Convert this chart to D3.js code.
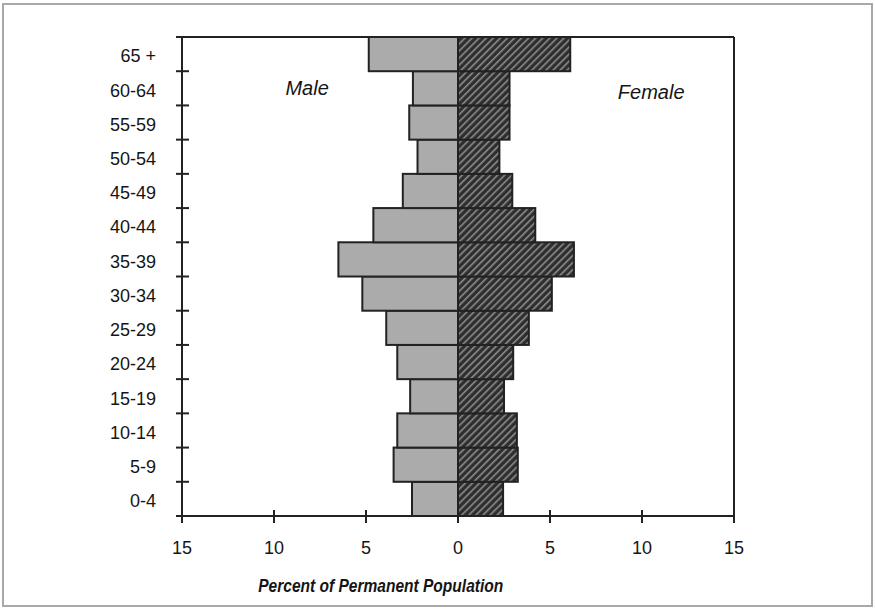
<!DOCTYPE html>
<html>
<head>
<meta charset="utf-8">
<style>
  body { margin: 0; background: #fff; }
  svg { display: block; font-family: "Liberation Sans", Arial, Helvetica, sans-serif; }
</style>
</head>
<body>
<svg width="875" height="609"></svg>
<script src="https://cdnjs.cloudflare.com/ajax/libs/d3/7.8.5/d3.min.js"></script>
<script>
// age groups, bottom to top
var ageGroups = ["0-4", "5-9", "10-14", "15-19", "20-24", "25-29", "30-34",
                 "35-39", "40-44", "45-49", "50-54", "55-59", "60-64", "65 +"];
var male   = [2.5, 3.5, 3.3, 2.6, 3.3, 3.9, 5.2, 6.5, 4.6, 3.0, 2.2, 2.65, 2.45, 4.85];
var female = [2.45, 3.25, 3.2, 2.5, 3.0, 3.85, 5.1, 6.3, 4.2, 2.95, 2.25, 2.8, 2.8, 6.1];
var xTicks = [-15, -10, -5, 0, 5, 10, 15];

var svg = d3.select("svg"),
    margin = {top: 37, right: 141, bottom: 93, left: 182},
    width = +svg.attr("width") - margin.left - margin.right,
    height = +svg.attr("height") - margin.top - margin.bottom;

// outer border of the figure
svg.append("rect")
  .attr("x", 3).attr("y", 4)
  .attr("width", 869).attr("height", 602)
  .attr("fill", "none")
  .attr("stroke", "#a8a8a8")
  .attr("stroke-width", 2);

var defs = svg.append("defs");
var pat = defs.append("pattern")
  .attr("id", "hatch")
  .attr("patternUnits", "userSpaceOnUse")
  .attr("width", 5).attr("height", 5)
  .attr("patternTransform", "rotate(45)");
pat.append("rect").attr("width", 5).attr("height", 5).attr("fill", "#2e2e2e");
pat.append("rect").attr("x", 0).attr("width", 1.6).attr("height", 5).attr("fill", "#8c8c8c");

var g = svg.append("g").attr("transform", "translate(" + margin.left + "," + margin.top + ")");

var x = d3.scaleLinear().domain([-15, 15]).range([0, width]);
var y = d3.scaleBand().domain(ageGroups).range([height, 0]).paddingInner(0).paddingOuter(0);

// frame: top and right lines
g.append("line")
  .attr("x1", -6).attr("x2", width).attr("y1", 0).attr("y2", 0)
  .attr("stroke", "#222").attr("stroke-width", 2);
g.append("line")
  .attr("x1", width).attr("x2", width).attr("y1", 0).attr("y2", height + 7)
  .attr("stroke", "#222").attr("stroke-width", 2);

// male bars
g.selectAll(".male")
  .data(ageGroups)
  .enter().append("rect")
  .attr("class", "male")
  .attr("x", function(d, i) { return x(-male[i]); })
  .attr("y", function(d) { return y(d); })
  .attr("width", function(d, i) { return x(0) - x(-male[i]); })
  .attr("height", y.bandwidth())
  .attr("fill", "#ababab")
  .attr("stroke", "#222")
  .attr("stroke-width", 2);

// female bars
g.selectAll(".female")
  .data(ageGroups)
  .enter().append("rect")
  .attr("class", "female")
  .attr("x", x(0))
  .attr("y", function(d) { return y(d); })
  .attr("width", function(d, i) { return x(female[i]) - x(0); })
  .attr("height", y.bandwidth())
  .attr("fill", "url(#hatch)")
  .attr("stroke", "#222")
  .attr("stroke-width", 2);

// left axis: ticks at band boundaries
var bounds = ageGroups.slice(1).map(function(d) { return y(d) + y.bandwidth(); });
g.append("line")
  .attr("x1", 0).attr("x2", 0).attr("y1", 0).attr("y2", height + 7)
  .attr("stroke", "#222").attr("stroke-width", 2);
g.selectAll(".ytick")
  .data(bounds)
  .enter().append("line")
  .attr("x1", -6).attr("x2", 7)
  .attr("y1", function(d) { return d; }).attr("y2", function(d) { return d; })
  .attr("stroke", "#222").attr("stroke-width", 2);
g.selectAll(".ylab")
  .data(ageGroups)
  .enter().append("text")
  .attr("x", -26)
  .attr("y", function(d) { return y(d) + y.bandwidth() / 2 + 2; })
  .attr("dy", "0.35em")
  .attr("text-anchor", "end")
  .attr("font-size", 18)
  .attr("fill", "#151515")
  .text(function(d) { return d; });

// bottom axis
g.append("line")
  .attr("x1", -6).attr("x2", width).attr("y1", height).attr("y2", height)
  .attr("stroke", "#222").attr("stroke-width", 2);
g.selectAll(".xtick")
  .data(xTicks)
  .enter().append("line")
  .attr("x1", function(d) { return x(d); }).attr("x2", function(d) { return x(d); })
  .attr("y1", height - 6).attr("y2", height + 7)
  .attr("stroke", "#222").attr("stroke-width", 2);
g.selectAll(".xlab")
  .data(xTicks)
  .enter().append("text")
  .attr("x", function(d) { return x(d); })
  .attr("y", height + 32)
  .attr("dy", "0.35em")
  .attr("text-anchor", "middle")
  .attr("font-size", 18)
  .attr("fill", "#151515")
  .text(function(d) { return Math.abs(d); });

g.append("text")
  .attr("x", x(-4.2))
  .attr("y", height + 69)
  .attr("dy", "0.35em")
  .attr("text-anchor", "middle")
  .attr("font-size", 19)
  .attr("font-weight", "bold")
  .attr("font-style", "italic")
  .attr("textLength", 245)
  .attr("lengthAdjust", "spacingAndGlyphs")
  .attr("fill", "#151515")
  .text("Percent of Permanent Population");

// series labels
g.append("text")
  .attr("x", x(-8.2)).attr("y", 51)
  .attr("dy", "0.35em")
  .attr("text-anchor", "middle")
  .attr("font-size", 20)
  .attr("font-style", "italic")
  .attr("fill", "#151515")
  .text("Male");
g.append("text")
  .attr("x", x(10.5)).attr("y", 55)
  .attr("dy", "0.35em")
  .attr("text-anchor", "middle")
  .attr("font-size", 20)
  .attr("font-style", "italic")
  .attr("fill", "#151515")
  .text("Female");
</script>
</body>
</html>
